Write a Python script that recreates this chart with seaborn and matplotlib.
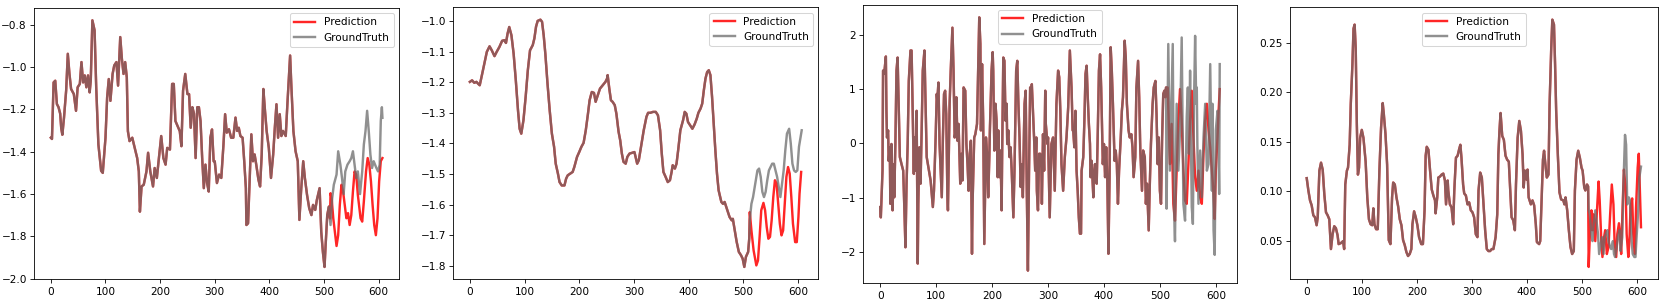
import matplotlib
matplotlib.use("Agg")
import matplotlib.pyplot as plt
import seaborn as sns

# ---------------- Panel 1 ----------------
p1_hist_x = [0, 2, 5, 8, 11, 14, 17, 19, 21, 24, 28, 31, 34, 37, 42, 46, 49, 53, 56, 59, 62, 65, 68, 71, 73, 76, 80, 83, 87, 92,
             95, 100, 103, 106, 109, 113, 116, 120, 123, 127, 130, 133, 136, 139, 141, 144, 149, 152, 155, 158, 161, 163, 166, 170,
             175, 178, 182, 187, 190, 194, 199, 202, 206, 210, 213, 218, 222, 225, 228, 232, 236, 239, 242, 246, 250, 253, 256, 259,
             262, 265, 268, 271, 274, 277, 280, 283, 286, 289, 292, 295, 298,
             300, 304, 308, 312, 316, 319, 322, 326, 330, 334, 338, 341, 344, 347, 351, 354, 357, 358, 361, 364, 367, 370, 373, 376,
             380, 383, 386, 389, 392, 395, 399, 403, 407, 410, 413, 416, 419, 422, 425, 430, 433, 436, 438, 440, 444, 448, 452, 455,
             458, 462, 465, 469, 473, 477, 480, 484, 487, 492, 495, 498, 501, 503, 506, 509, 511]
p1_hist_y = [-1.334, -1.34, -1.073, -1.065, -1.175, -1.19, -1.22, -1.29, -1.32, -1.24, -1.11, -0.938, -1.033, -1.104, -1.128,
             -1.207, -1.096, -1.08, -0.977, -1.073, -1.04, -1.096, -1.04, -1.12, -1.065, -0.78, -0.827, -1.096, -1.366, -1.49,
             -1.5, -1.334, -1.144, -1.057, -1.16, -1.033, -0.993, -0.977, -1.088, -0.859, -0.962, -1.033, -0.977, -1.049, -1.303,
             -1.35, -1.334, -1.366, -1.398, -1.43, -1.493, -1.683, -1.564, -1.556, -1.493, -1.405, -1.493, -1.564, -1.477, -1.524,
             -1.398, -1.326, -1.43, -1.461, -1.382, -1.39, -1.08, -1.08, -1.255, -1.279, -1.303, -1.374, -1.112, -1.033, -1.128,
             -1.128, -1.287, -1.19, -1.22, -1.43, -1.19, -1.19, -1.255, -1.43, -1.572, -1.461, -1.548, -1.588, -1.334, -1.295, -1.445,
             -1.445, -1.548, -1.508, -1.524, -1.366, -1.223, -1.310, -1.294, -1.334, -1.334, -1.239, -1.302, -1.287, -1.326, -1.334,
             -1.445, -1.572, -1.746, -1.738, -1.524, -1.318, -1.445, -1.413, -1.461, -1.532, -1.564, -1.413, -1.104, -1.207, -1.302,
             -1.382, -1.524, -1.413, -1.287, -1.176, -1.334, -1.223, -1.326, -1.302, -1.326, -1.176, -1.041, -0.946, -1.073, -1.302,
             -1.398, -1.445, -1.722, -1.588, -1.445, -1.524, -1.604, -1.667, -1.699, -1.651, -1.675, -1.627, -1.572, -1.778, -1.873,
             -1.944, -1.841, -1.699, -1.659, -1.715]
p1_pred_x = [512, 514, 517, 520, 523, 526, 529, 532, 535, 538, 541, 544, 547, 550, 553, 556, 559, 562, 567, 570, 573, 577, 580,
             583, 586, 589, 592, 595, 598, 601, 604, 607]
p1_pred_y = [-1.596, -1.62, -1.714, -1.778, -1.845, -1.794, -1.651, -1.556, -1.588, -1.651, -1.714, -1.69, -1.746, -1.699,
             -1.588, -1.493, -1.508, -1.604, -1.714, -1.73, -1.635, -1.493, -1.43, -1.461, -1.54, -1.651, -1.746, -1.794, -1.714,
             -1.54, -1.445, -1.43]
p1_true_x = [512, 515, 518, 523, 526, 530, 533, 536, 539, 543, 547, 550, 553, 556, 559, 562, 566, 570, 573, 576, 579, 582, 585,
             588, 591, 596, 599, 602, 604, 606, 607]
p1_true_y = [-1.746, -1.62, -1.556, -1.508, -1.398, -1.461, -1.524, -1.6, -1.493, -1.461, -1.445, -1.43, -1.398, -1.461, -1.524,
             -1.493, -1.6, -1.493, -1.366, -1.303, -1.207, -1.303, -1.414, -1.477, -1.445, -1.477, -1.493, -1.461, -1.255, -1.19,
             -1.24]

# ---------------- Panel 2 ----------------
p2_hist_x = [0, 4, 8, 12, 15, 18, 22, 27, 31, 36, 40, 45, 49, 54, 59, 63, 66, 69, 72, 76, 80, 84, 88, 91, 94, 98, 102, 106, 110,
             115, 118, 121, 124, 129, 132, 135, 138, 142, 146, 150, 154, 157, 161, 164, 168, 173, 176, 179, 184, 188, 191, 196,
             200, 204, 208, 212, 216, 219, 223, 227, 230, 234, 238, 243, 248, 251, 252, 255, 258, 261, 265, 268, 272, 275, 278,
             281, 285, 288, 292, 296,
             301, 306, 309, 314, 318, 323, 326, 330, 335, 340, 344, 348, 351, 354, 358, 362, 366, 369, 371, 375, 378, 381, 385,
             390, 393, 396, 399, 404, 407, 411, 415, 418, 422, 425, 428, 431, 434, 437, 440, 443, 446, 449, 452, 455, 460, 463,
             466, 471, 475, 479, 481, 484, 488, 492, 496, 499, 502, 505, 509, 511]
p2_hist_y = [-1.199, -1.194, -1.202, -1.199, -1.205, -1.21, -1.177, -1.134, -1.101, -1.083, -1.096, -1.115, -1.101, -1.085,
             -1.065, -1.063, -1.072, -1.041, -1.02, -1.047, -1.107, -1.194, -1.292, -1.352, -1.368, -1.324, -1.248, -1.161, -1.096,
             -1.079, -1.057, -1.019, -1.0, -0.996, -1.003, -1.047, -1.107, -1.205, -1.292, -1.368, -1.411, -1.466, -1.498, -1.526,
             -1.537, -1.537, -1.515, -1.504, -1.498, -1.493, -1.477, -1.444, -1.428, -1.411, -1.398, -1.357, -1.303, -1.259, -1.232,
             -1.235, -1.264, -1.243, -1.221, -1.21, -1.199, -1.188, -1.177, -1.221, -1.259, -1.264, -1.275, -1.303, -1.362, -1.39,
             -1.433, -1.46, -1.466, -1.444, -1.433, -1.431,
             -1.428, -1.466, -1.455, -1.40, -1.357, -1.313, -1.30, -1.30, -1.297, -1.297, -1.308, -1.357, -1.433, -1.493, -1.509,
             -1.526, -1.52, -1.493, -1.471, -1.482, -1.466, -1.422, -1.357, -1.324, -1.297, -1.303, -1.33, -1.344, -1.352, -1.338,
             -1.319, -1.30, -1.286, -1.27, -1.226, -1.188, -1.167, -1.161, -1.177, -1.248, -1.335, -1.422, -1.498, -1.553, -1.591,
             -1.597, -1.591, -1.618, -1.64, -1.651, -1.646, -1.678, -1.721, -1.754, -1.765, -1.776, -1.803, -1.77, -1.754, -1.711]
p2_pred_x = [512, 515, 519, 524, 527, 530, 533, 537, 540, 543, 546, 549, 552, 555, 558, 561, 564, 567, 570, 573, 576, 579, 582,
             585, 588, 591, 595, 598, 601, 603, 606]
p2_pred_y = [-1.624, -1.684, -1.749, -1.798, -1.782, -1.705, -1.618, -1.594, -1.618, -1.673, -1.711, -1.705, -1.651, -1.575,
             -1.52, -1.531, -1.596, -1.662, -1.70, -1.684, -1.596, -1.509, -1.477, -1.498, -1.575, -1.662, -1.722, -1.722, -1.64,
             -1.564, -1.493]
p2_true_x = [512, 515, 518, 522, 526, 529, 532, 535, 538, 541, 544, 547, 550, 553, 556, 559, 562, 565, 568, 571, 574, 577, 580,
             584, 587, 590, 593, 596, 599, 602, 605, 607]
p2_true_y = [-1.65, -1.597, -1.575, -1.531, -1.488, -1.482, -1.509, -1.558, -1.575, -1.558, -1.52, -1.488, -1.477, -1.466,
             -1.466, -1.488, -1.509, -1.542, -1.575, -1.531, -1.488, -1.422, -1.368, -1.352, -1.40, -1.466, -1.488, -1.493,
             -1.488, -1.411, -1.379, -1.357]

# ---------------- Panel 3 ----------------
p3_hist_x = [0, 1, 4, 5, 7, 10, 11, 12, 14, 15, 17, 18, 20, 22, 24, 25, 27, 29, 31, 33, 35, 38, 41, 43, 45, 47, 49, 51, 54, 56,
             58, 60, 61, 63, 65, 67, 68, 70, 72, 74, 76, 79, 81, 83, 87, 90, 94, 96, 99, 101, 102, 104, 106, 108, 110, 112, 114,
             116, 118, 120, 121, 124, 126, 129, 131, 133, 135, 136, 138, 140, 143, 145, 147, 149, 152, 154, 156, 158, 160, 162,
             164, 165, 168, 170, 173, 175, 177, 179, 180, 182, 184, 186, 188, 189, 191, 193, 195, 196, 199, 201, 202, 204, 206,
             208, 210, 211, 213, 215, 217, 218, 220, 222, 224, 226, 227, 229, 231, 233, 235, 236, 238, 240, 242, 243, 245, 247,
             249, 251, 253, 255, 257, 258, 260, 262, 264, 266, 268, 270, 271, 273, 275, 277, 279, 280, 282, 284, 286, 288, 289,
             291, 293, 295, 296, 299,
             300, 303, 306, 309, 312, 315, 318, 320, 322, 324, 327, 330, 333, 336, 339, 342, 344, 345, 347, 349, 351, 353, 355,
             357, 359, 360, 363, 365, 367, 369, 371, 373, 375, 376, 378, 381, 382, 384, 387, 389, 391, 393, 395, 397, 398, 400,
             402, 404, 406, 408, 410, 412, 414, 416, 418, 419, 421, 423, 425, 427, 430, 432, 434, 437, 439, 441, 444, 446, 449,
             451, 453, 456, 458, 461, 463, 465, 468, 470, 473, 475, 477, 480, 482, 484, 487, 489, 492, 494, 496, 498, 500, 502,
             504, 506, 508, 510, 511]
p3_hist_y = [-1.17, -1.36, -0.50, 1.34, 1.28, 1.60, 0.60, 0.11, 0.24, -0.32, -0.07, -1.11, -0.01, -1.23, -0.38, -0.99, -0.01,
             1.34, 1.58, 0.66, -0.25, -0.38, -0.50, -1.17, -1.91, -0.74, -0.01, 1.15, 1.71, 1.71, 0.54, -0.56, 0.11, -0.50, 0.60,
             -2.21, -1.11, -0.07, -0.74, 0.24, 1.34, 1.71, 0.73, -0.25, -0.50, -0.68, -1.17, -0.87, 0.11, 0.91, 0.79, 1.12, -0.01,
             -0.50, -0.99, 0.11, 0.91, 0.97, 0.54, -0.93, -1.23, 0.73, 1.34, 2.13, 1.34, 0.11, 0.24, 0.85, 0.05, 0.36, -0.74,
             -0.19, -0.68, 1.03, 0.97, -0.01, -0.38, -0.87, -0.19, 0.05, -2.03, -1.11, 0.11, 0.17, 0.36, 1.34, 2.32, 1.83, 0.24,
             1.46, 0.42, -1.85, -0.50, 0.11, -0.19, -0.99, -0.25, 0.24, 1.34, 1.68, 1.34, -0.13, 0.73, 0.42, -0.62, 0.24, -0.62,
             -0.13, -1.23, -0.13, 1.58, 1.52, 0.42, 0.73, -0.01, 0.24, -0.25, -0.07, -0.50, -0.80, -1.36, -0.50, 0.73, 1.34, 1.52,
             0.73, 0.11, -0.80, -0.38, -0.99, 0.24, 0.73, 0.97, -0.87, -2.34, -0.50, 1.03, 0.85, 1.09, 0.60, 0.11, -0.50, 0.11,
             -0.87, -1.23, -0.19, -0.19, -0.44, -1.11, 0.17, -0.50, 0.97, 0.36, -0.01,
             0.11, -1.36, -0.01, 0.11, -0.87, 0.73, 1.34, 1.22, 0.60, -0.38, -0.87, -0.25, 0.11, 0.66, 1.71, 1.03, 0.24, 0.24,
             -0.07, 0.60, -0.50, -0.87, -1.36, -1.66, -1.66, -0.50, -0.25, 0.42, 1.28, 1.43, 0.85, 0.36, -0.01, -0.62, -0.32,
             -0.99, -0.62, -0.38, -0.74, 0.24, 1.34, 1.64, 1.03, 0.11, -0.38, -0.01, -0.62, -0.07, -0.68, -2.03, -0.62, 1.77,
             1.34, 0.73, -0.01, -0.32, -0.13, -0.38, -1.11, -0.50, 0.11, 0.60, 0.85, 1.89, 1.58, 0.73, 0.24, 0.11, 0.17, -0.07,
             -0.62, -0.25, 1.03, 1.52, 0.85, -0.13, -0.87, -0.13, -0.25, -1.11, -0.74, -1.60, -0.74, -0.01, 0.73, 1.03, 1.15, 0.54,
             -0.38, 0.11, -0.87, -1.11, 0.11, 0.91, 0.97, 0.85, 1.03]
p3_pred_x = [514, 518, 521, 524, 527, 530, 533, 536, 539, 542, 545, 548, 551, 554, 557, 560, 563, 566, 569, 572, 575, 578, 581,
             584, 587, 590, 593, 596, 598, 600, 603, 605, 607]
p3_pred_y = [1.03, -0.38, 0.36, -1.11, -1.42, -0.50, 0.42, 1.00, 0.42, -0.50, -1.05, -1.11, -0.38, 0.42, 0.97, 0.11, -0.62,
             -0.87, -0.50, -0.99, -1.11, -0.19, 0.42, 0.73, 0.24, -0.07, -0.50, -0.93, -1.39, -0.50, 0.11, 0.60, 1.00]
p3_true_x = [512, 515, 518, 521, 523, 525, 527, 530, 533, 536, 539, 542, 545, 548, 550, 552, 554, 557, 559, 561, 563, 565, 566,
             567, 569, 572, 575, 578, 581, 584, 587, 590, 593, 594, 596, 598, 600, 603, 605, 606, 607]
p3_true_y = [-1.2, 1.83, -0.50, 0.85, 1.83, -1.11, -1.80, 0.73, -0.50, 0.24, 1.95, -1.11, -1.42, 0.48, 1.03, -0.19, 1.34, -1.17,
             -1.48, 0.73, 1.98, 0.73, 1.03, -0.01, -1.11, -0.13, -0.99, 0.11, 0.73, -0.50, -0.38, 1.46, -0.87, 0.73, -1.60, -2.05,
             0.24, 0.60, -0.19, -0.93, 1.46]

# ---------------- Panel 4 ----------------
p4_hist_x = [0, 3, 6, 9, 12, 15, 18, 20, 23, 26, 29, 32, 35, 38, 41, 44, 47, 50, 53, 56, 58, 62, 66, 68, 70, 73, 75, 78, 80, 83,
             85, 87, 89, 91, 93, 95, 97, 100, 103, 107, 110, 113, 116, 119, 121, 123, 126, 129, 132, 135, 138, 140, 143, 146, 149,
             152, 155, 157, 160, 163, 166, 169, 172, 175, 178, 181, 184, 187, 190, 192, 195, 198, 201, 204, 208, 211, 214, 216,
             218, 221, 224, 227, 230, 233, 234, 237, 239, 242, 245, 248, 251, 253, 256, 257, 260, 263, 266, 268, 271, 274, 277,
             279, 281, 284, 286, 289, 292, 295, 298, 301, 304,
             307, 310, 312, 315, 318, 321, 324, 327, 330, 333, 336, 339, 343, 346, 348, 350, 352, 355, 358, 361, 364, 367, 369,
             372, 375, 378, 380, 383, 386, 389, 392, 394, 396, 399, 401, 403, 407, 410, 413, 416, 418, 422, 424, 427, 429, 431,
             434, 436, 439, 441, 444, 446, 449, 451, 453, 456, 459, 462, 466, 468, 470, 473, 476, 479, 482, 485, 487, 490, 493,
             496, 499, 501, 504, 506, 509, 511]
p4_hist_y = [0.1134, 0.101, 0.091, 0.086, 0.076, 0.074, 0.066, 0.074, 0.121, 0.129, 0.122, 0.097, 0.079, 0.076, 0.072, 0.042,
             0.057, 0.065, 0.063, 0.056, 0.047, 0.048, 0.05, 0.042, 0.107, 0.121, 0.124, 0.147, 0.188, 0.228, 0.264, 0.268, 0.244,
             0.168, 0.117, 0.124, 0.154, 0.162, 0.154, 0.130, 0.094, 0.072, 0.067, 0.066, 0.083, 0.067, 0.062, 0.062, 0.121, 0.164,
             0.189, 0.178, 0.158, 0.127, 0.051, 0.047, 0.094, 0.109, 0.107, 0.094, 0.085, 0.072, 0.066, 0.051, 0.046, 0.039, 0.035,
             0.037, 0.042, 0.067, 0.080, 0.074, 0.066, 0.054, 0.047, 0.047, 0.081, 0.136, 0.145, 0.142, 0.121, 0.102, 0.096, 0.091,
             0.078, 0.094, 0.114, 0.115, 0.117, 0.118, 0.111, 0.087, 0.111, 0.101, 0.087, 0.084, 0.067, 0.101, 0.134, 0.136, 0.143,
             0.147, 0.134, 0.107, 0.098, 0.096, 0.087, 0.089, 0.081, 0.079, 0.074,
             0.057, 0.054, 0.101, 0.119, 0.114, 0.087, 0.061, 0.042, 0.04, 0.04, 0.042, 0.042, 0.054, 0.077, 0.137, 0.161, 0.179,
             0.156, 0.152, 0.136, 0.132, 0.13, 0.107, 0.074, 0.071, 0.061, 0.107, 0.154, 0.171, 0.161, 0.137, 0.104, 0.121, 0.112,
             0.122, 0.094, 0.087, 0.091, 0.086, 0.067, 0.049, 0.047, 0.05, 0.101, 0.132, 0.141, 0.124, 0.114, 0.117, 0.187, 0.244,
             0.273, 0.268, 0.228, 0.181, 0.137, 0.099, 0.092, 0.091, 0.087, 0.094, 0.081, 0.061, 0.044, 0.037, 0.04, 0.101, 0.132,
             0.141, 0.134, 0.124, 0.121, 0.104, 0.101, 0.107, 0.105]
p4_pred_x = [512, 514, 517, 519, 521, 524, 528, 530, 532, 535, 537, 540, 542, 545, 548, 551, 554, 557, 559, 562, 564, 567, 569,
             571, 574, 576, 579, 581, 584, 586, 588, 591, 593, 596, 598, 601, 603, 605, 607]
p4_pred_y = [0.024, 0.054, 0.081, 0.061, 0.077, 0.05, 0.091, 0.110, 0.091, 0.05, 0.034, 0.054, 0.061, 0.037, 0.044, 0.077,
             0.107, 0.087, 0.05, 0.034, 0.057, 0.068, 0.057, 0.037, 0.091, 0.122, 0.104, 0.057, 0.034, 0.05, 0.084, 0.093, 0.057,
             0.037, 0.084, 0.124, 0.138, 0.101, 0.064]
p4_true_x = [512, 514, 517, 519, 521, 524, 526, 529, 531, 534, 536, 539, 541, 543, 546, 548, 551, 553, 556, 558, 560, 563, 565,
             568, 570, 573, 575, 578, 580, 582, 585, 587, 590, 592, 595, 597, 599, 602, 604, 607]
p4_true_y = [0.081, 0.077, 0.057, 0.05, 0.067, 0.081, 0.071, 0.057, 0.037, 0.047, 0.054, 0.037, 0.054, 0.057, 0.061, 0.05,
             0.044, 0.042, 0.05, 0.037, 0.034, 0.044, 0.054, 0.061, 0.04, 0.054, 0.104, 0.157, 0.147, 0.087, 0.094, 0.091, 0.05,
             0.037, 0.034, 0.034, 0.054, 0.081, 0.114, 0.125]

panels = [
    (p1_hist_x, p1_hist_y, p1_pred_x, p1_pred_y, p1_true_x, p1_true_y, "upper right"),
    (p2_hist_x, p2_hist_y, p2_pred_x, p2_pred_y, p2_true_x, p2_true_y, "upper right"),
    (p3_hist_x, p3_hist_y, p3_pred_x, p3_pred_y, p3_true_x, p3_true_y, "upper center"),
    (p4_hist_x, p4_hist_y, p4_pred_x, p4_pred_y, p4_true_x, p4_true_y, "upper center"),
]

# axes rectangles in pixels: (left, top, right, bottom)
W, H = 1661, 302
rects_px = [(34.3, 8.0, 399.0, 279.3), (453.3, 7.3, 818.3, 279.3),
            (863.3, 4.7, 1236.7, 283.3), (1290.0, 7.3, 1657.7, 279.3)]

fig = plt.figure(figsize=(22, 4), dpi=75.5)
for (hx, hy, px, py, tx, ty, loc), (l, t, r, b) in zip(panels, rects_px):
    ax = fig.add_axes([l / W, 1 - b / H, (r - l) / W, (b - t) / H])
    sns.lineplot(x=hx + px, y=hy + py, ax=ax, color="red", alpha=0.85, linewidth=2.3,
                 label="Prediction", estimator=None, sort=False)
    sns.lineplot(x=hx + tx, y=hy + ty, ax=ax, color="#6b6b6b", alpha=0.75, linewidth=2.3,
                 label="GroundTruth", estimator=None, sort=False)
    ax.legend(loc=loc, fontsize=10)
    ax.set_xlabel("")
    ax.set_ylabel("")
    ax.set_xticks([0, 100, 200, 300, 400, 500, 600])
    ax.tick_params(labelsize=10)

fig.savefig("out.png", dpi=75.5)
